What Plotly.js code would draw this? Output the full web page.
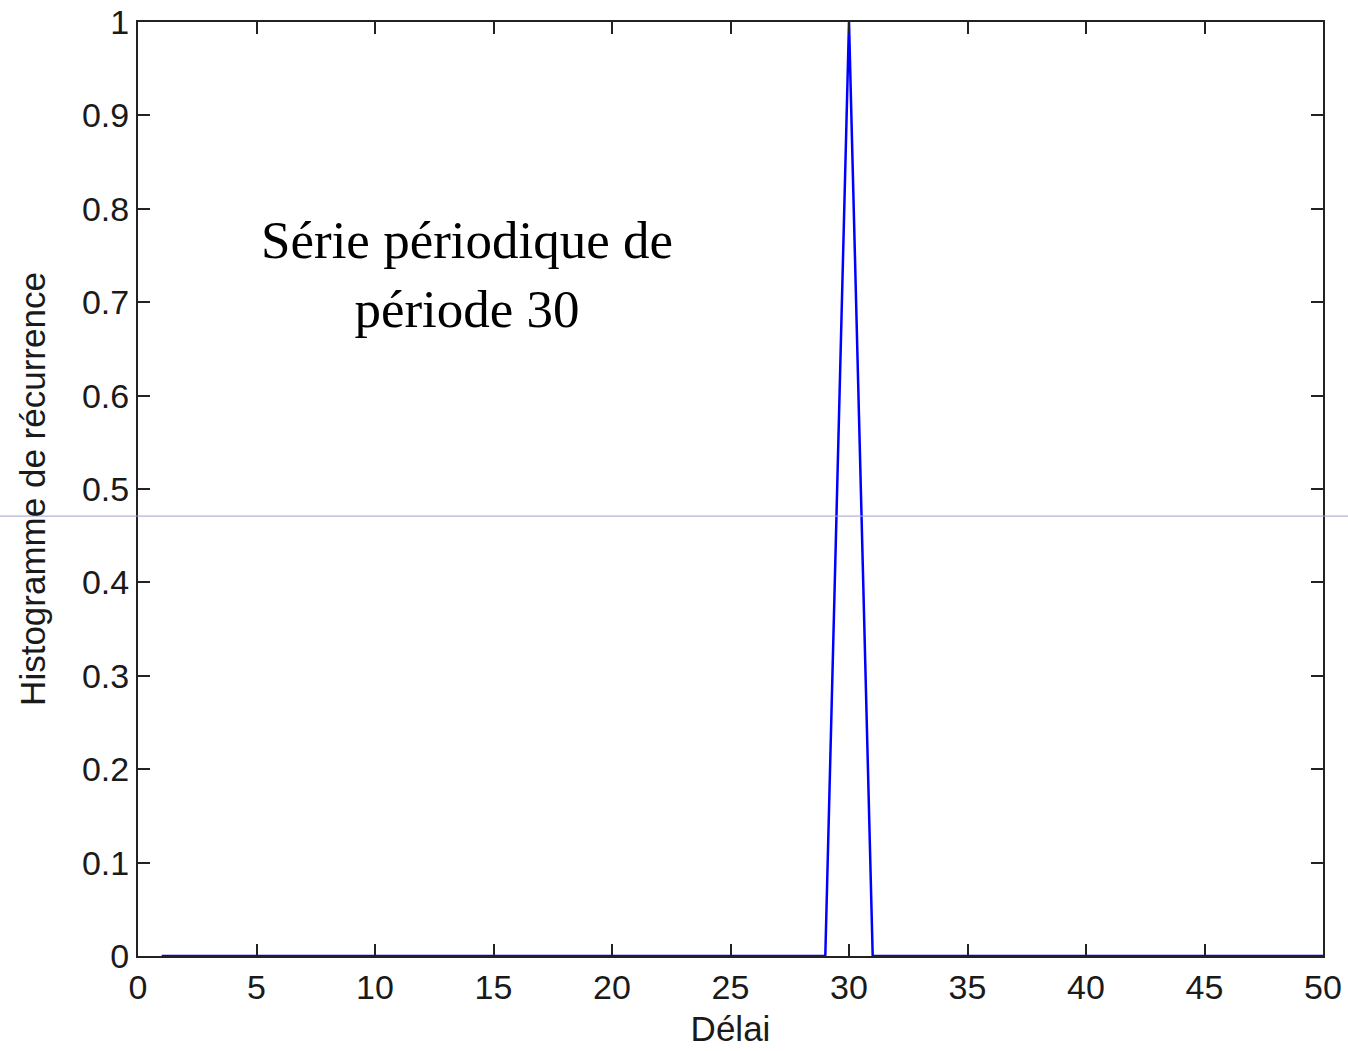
<!DOCTYPE html>
<html>
<head>
<meta charset="utf-8">
<script src="https://cdn.plot.ly/plotly-3.0.1.min.js"></script>
<style>html,body{margin:0;padding:0;background:#fff;}#chart{width:1348px;height:1051px;}</style>
</head>
<body>
<div id="chart"></div>
<script>
// Delay (x) values 1..50 and recurrence histogram values
const delays = [1,2,3,4,5,6,7,8,9,10,11,12,13,14,15,16,17,18,19,20,21,22,23,24,25,
                26,27,28,29,30,31,32,33,34,35,36,37,38,39,40,41,42,43,44,45,46,47,48,49,50];
const histogram = [0,0,0,0,0,0,0,0,0,0,0,0,0,0,0,0,0,0,0,0,0,0,0,0,0,
                   0,0,0,0,1,0,0,0,0,0,0,0,0,0,0,0,0,0,0,0,0,0,0,0,0];
const xTicks = [0,5,10,15,20,25,30,35,40,45,50];
const yTicks = [0,0.1,0.2,0.3,0.4,0.5,0.6,0.7,0.8,0.9,1];
const yTickText = ['0','0.1','0.2','0.3','0.4','0.5','0.6','0.7','0.8','0.9','1'];
const xTitle = 'Délai';
const yTitle = 'Histogramme de récurrence';
const noteText = 'Série périodique de<br>période 30';
const noteX = 13.9, noteY = 0.73;
const guideY = 0.471; // faint horizontal artifact line

const trace = {
  x: delays, y: histogram, type: 'scatter', mode: 'lines',
  line: {color: '#0000ff', width: 2.5}, hoverinfo: 'skip'
};

const axisCommon = {
  showgrid: false, zeroline: false, showline: true, linecolor: '#222', linewidth: 2,
  mirror: 'ticks', ticks: 'inside', ticklen: 12, tickwidth: 2, tickcolor: '#222',
  tickfont: {family: 'Liberation Sans, Arial, sans-serif', size: 34, color: '#1a1a1a'}
};

const layout = {
  width: 1348, height: 1051,
  margin: {l: 138, r: 25, t: 22, b: 95},
  paper_bgcolor: '#fff', plot_bgcolor: '#fff',
  showlegend: false,
  xaxis: Object.assign({}, axisCommon, {
    range: [0, 50], tickvals: xTicks, ticktext: xTicks.map(String),
    title: {text: xTitle, standoff: 12, font: {family: 'Liberation Sans, Arial, sans-serif', size: 35, color: '#1a1a1a'}}
  }),
  yaxis: Object.assign({}, axisCommon, {
    range: [0, 1], tickvals: yTicks, ticktext: yTickText,
    title: {text: yTitle, standoff: 26, font: {family: 'Liberation Sans, Arial, sans-serif', size: 35, color: '#1a1a1a'}}
  }),
  annotations: [{
    x: noteX, y: noteY, xref: 'x', yref: 'y', text: noteText, showarrow: false,
    font: {family: 'Liberation Serif, Times New Roman, serif', size: 53, color: '#000'},
    align: 'center'
  }],
  shapes: [{
    type: 'line', xref: 'paper', yref: 'y', x0: -0.12, x1: 1.03, y0: guideY, y1: guideY,
    line: {color: '#a0a0d2', width: 1}, layer: 'above'
  }]
};

Plotly.newPlot('chart', [trace], layout, {displayModeBar: false, staticPlot: true});
</script>
</body>
</html>
